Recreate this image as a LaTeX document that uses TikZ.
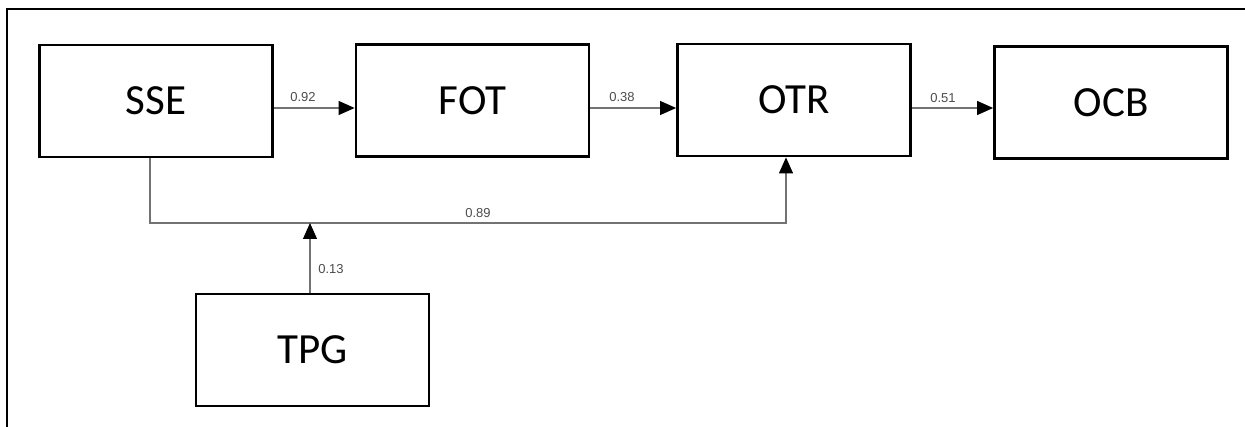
\documentclass[tikz,border=0pt]{standalone}
\usepackage{fontspec}
\setmainfont{Carlito}
\newfontfamily\labelfont{Liberation Sans}
\usetikzlibrary{arrows.meta}
\begin{document}
\begin{tikzpicture}[x=1pt,y=-1pt,
  var/.style={draw=black,line width=2.8pt,fill=white,minimum width=233pt,minimum height=112pt,inner sep=0pt,font=\fontsize{43}{48}\selectfont},
  conn/.style={draw=black!55,line width=1.1pt,-{Triangle[length=16pt,width=14pt,color=black]}},
  coef/.style={font=\labelfont\fontsize{13}{15}\selectfont,text=black!70,inner sep=1pt}]
\useasboundingbox (0,0) rectangle (1245,427);
\begin{scope}
\clip (0,0) rectangle (1245,427);
\draw[line width=2pt] (7,9) rectangle (1270,450);
\end{scope}
\node[var] (SSE) at (156,101) {SSE};
\node[var] (FOT) at (472.5,100.5) {FOT};
\node[var] (OTR) at (794,100) {OTR};
\node[var] (OCB) at (1111,102.5) {OCB};
\node[var] (TPG) at (312.5,350) {TPG};
\coordinate (c1) at (150,223);
\coordinate (c2) at (786,223);
\coordinate (c3) at (310,223);
\draw[conn] ([yshift=-7pt]SSE.east) -- ([yshift=-7pt]SSE.east -| FOT.west);
\draw[conn] ([yshift=-7.5pt]FOT.east) -- ([yshift=-7.5pt]FOT.east -| OTR.west);
\draw[conn] ([yshift=-8pt]OTR.east) -- ([yshift=-8pt]OTR.east -| OCB.west);
\draw[conn] (SSE.south -| c1) -- (c1) -- (c2) -- (OTR.south -| c2);
\draw[conn] (TPG.north -| c3) -- (c3);
\node[coef] (l1) at (303,97) {0.92};
\node[coef] (l2) at (622,97) {0.38};
\node[coef] (l3) at (943,98) {0.51};
\node[coef] (l4) at (478,213) {0.89};
\node[coef] (l5) at (331,269) {0.13};
\end{tikzpicture}
\end{document}
